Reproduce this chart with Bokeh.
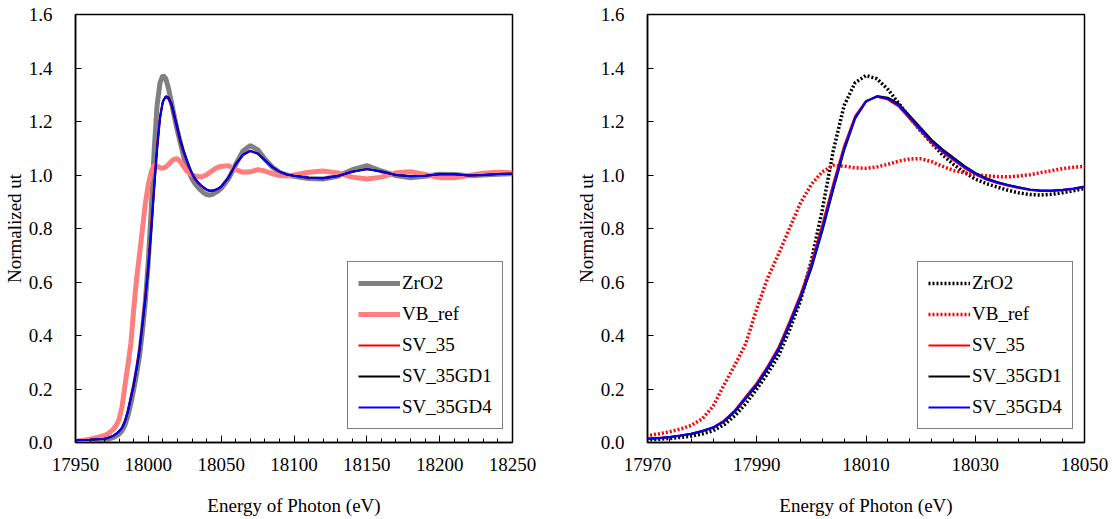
from bokeh.plotting import figure
from bokeh.layouts import row
from bokeh.models import FixedTicker, Legend, LegendItem, Range1d, CustomJSTickFormatter
from bokeh.embed import file_html
from bokeh.resources import INLINE

energy = [17950, 17955, 17960, 17965,
          17970, 17972, 17974, 17976, 17978, 17980, 17982, 17984, 17986, 17988,
          17990, 17992, 17994, 17996, 17998, 18000, 18002, 18004, 18006, 18008,
          18010, 18012, 18014, 18016, 18018, 18020, 18022, 18024, 18026, 18028,
          18030, 18032, 18034, 18036, 18038, 18040, 18042, 18044, 18046, 18048,
          18050,
          18055, 18060, 18065, 18070, 18075, 18080, 18085, 18090, 18095, 18100,
          18110, 18120, 18130, 18140, 18150, 18160, 18170, 18180, 18190, 18200,
          18210, 18220, 18230, 18240, 18250]

zro2 = [0.004, 0.005, 0.006, 0.008,
        0.010, 0.012, 0.015, 0.019, 0.024, 0.032, 0.044, 0.066, 0.100, 0.145,
        0.200, 0.258, 0.325, 0.420, 0.530, 0.680, 0.870, 1.090, 1.260, 1.345,
        1.372, 1.360, 1.320, 1.268, 1.215, 1.165, 1.120, 1.075, 1.040, 1.010,
        0.985, 0.968, 0.955, 0.943, 0.933, 0.927, 0.925, 0.928, 0.934, 0.941,
        0.950,
        0.985, 1.040, 1.090, 1.110, 1.095, 1.060, 1.030, 1.010, 1.000, 0.995,
        0.987, 0.985, 0.995, 1.020, 1.035, 1.015, 0.998, 0.990, 0.995, 1.003,
        1.002, 0.997, 1.000, 1.003, 1.005]

vb_ref = [0.005, 0.008, 0.012, 0.019,
          0.026, 0.032, 0.040, 0.050, 0.064, 0.088, 0.135, 0.215, 0.290, 0.370,
          0.500, 0.615, 0.705, 0.800, 0.895, 0.965, 1.012, 1.036, 1.033, 1.027,
          1.025, 1.030, 1.040, 1.052, 1.060, 1.061, 1.050, 1.033, 1.017, 1.008,
          1.001, 0.997, 0.994, 0.993, 0.996, 1.001, 1.009, 1.016, 1.024, 1.029,
          1.032,
          1.035, 1.020, 1.010, 1.012, 1.020, 1.015, 1.005, 0.998, 0.996, 1.000,
          1.010, 1.015, 1.008, 0.992, 0.985, 0.992, 1.008, 1.012, 1.002, 0.990,
          0.990, 0.998, 1.007, 1.010, 1.008]

sv_35 = [0.008, 0.009, 0.010, 0.012,
         0.014, 0.017, 0.021, 0.026, 0.033, 0.043, 0.057, 0.082, 0.121, 0.172,
         0.223, 0.286, 0.357, 0.453, 0.555, 0.672, 0.815, 0.968, 1.110, 1.220,
         1.277, 1.292, 1.282, 1.255, 1.210, 1.164, 1.120, 1.085, 1.055, 1.026,
         1.002, 0.983, 0.970, 0.960, 0.951, 0.944, 0.940, 0.940, 0.943, 0.948,
         0.955,
         0.989, 1.038, 1.074, 1.089, 1.079, 1.054, 1.030, 1.012, 1.002, 0.997,
         0.990, 0.988, 0.996, 1.012, 1.022, 1.013, 1.000, 0.995, 0.997, 1.003,
         1.003, 0.998, 1.000, 1.004, 1.005]

sv_35gd1 = [0.008, 0.009, 0.010, 0.012,
            0.014, 0.016, 0.020, 0.025, 0.032, 0.042, 0.055, 0.078, 0.115, 0.164,
            0.214, 0.275, 0.344, 0.438, 0.537, 0.650, 0.790, 0.945, 1.092, 1.210,
            1.274, 1.295, 1.289, 1.266, 1.222, 1.177, 1.132, 1.096, 1.065, 1.034,
            1.008, 0.988, 0.974, 0.963, 0.954, 0.946, 0.942, 0.942, 0.945, 0.950,
            0.957,
            0.991, 1.041, 1.076, 1.091, 1.081, 1.056, 1.031, 1.012, 1.002, 0.997,
            0.990, 0.988, 0.996, 1.012, 1.022, 1.013, 1.000, 0.995, 0.997, 1.003,
            1.003, 0.998, 1.000, 1.004, 1.005]

sv_35gd4 = [0.008, 0.009, 0.010, 0.012,
            0.014, 0.017, 0.021, 0.026, 0.033, 0.043, 0.056, 0.080, 0.118, 0.168,
            0.218, 0.280, 0.350, 0.445, 0.545, 0.660, 0.800, 0.955, 1.100, 1.215,
            1.275, 1.293, 1.285, 1.260, 1.215, 1.170, 1.125, 1.090, 1.060, 1.030,
            1.005, 0.985, 0.972, 0.962, 0.953, 0.945, 0.941, 0.941, 0.944, 0.949,
            0.956,
            0.990, 1.040, 1.075, 1.090, 1.080, 1.055, 1.030, 1.012, 1.002, 0.997,
            0.990, 0.988, 0.996, 1.012, 1.022, 1.013, 1.000, 0.995, 0.997, 1.003,
            1.003, 0.998, 1.000, 1.004, 1.005]

series_names = ["ZrO2", "VB_ref", "SV_35", "SV_35GD1", "SV_35GD4"]
series_vals = [zro2, vb_ref, sv_35, sv_35gd1, sv_35gd4]

left_xticks = [17950, 18000, 18050, 18100, 18150, 18200, 18250]
right_xticks = [17970, 17990, 18010, 18030, 18050]
yticks = [0.0, 0.2, 0.4, 0.6, 0.8, 1.0, 1.2, 1.4, 1.6]

FONT = "serif"
FS = "19px"


def make_fig(xr, xticks, minor_step, left_border, right_border, styles):
    p = figure(width=left_border + 438 + right_border, height=519,
               x_range=Range1d(*xr), y_range=Range1d(0, 1.6),
               output_backend="svg", toolbar_location=None,
               min_border_left=left_border, min_border_right=right_border,
               min_border_top=14, min_border_bottom=77)
    p.frame_width = 437
    p.frame_height = 428
    p.xgrid.visible = False
    p.ygrid.visible = False
    p.outline_line_color = "black"
    p.outline_line_width = 1.5
    p.background_fill_color = "white"
    p.border_fill_color = "white"

    minor = []
    v = xr[0]
    while v <= xr[1] + 1e-9:
        minor.append(v)
        v += minor_step
    p.xaxis.ticker = FixedTicker(ticks=xticks, minor_ticks=minor)
    p.yaxis.ticker = FixedTicker(ticks=yticks, minor_ticks=[])
    p.yaxis.formatter = CustomJSTickFormatter(code="return tick.toFixed(1);")
    for ax in (p.xaxis[0], p.yaxis[0]):
        ax.axis_line_color = "black"
        ax.axis_line_width = 1.5
        ax.major_tick_line_color = "black"
        ax.minor_tick_line_color = "black"
        ax.major_tick_out = 0
        ax.minor_tick_out = 0
        ax.major_label_text_font = FONT
        ax.major_label_text_font_size = FS
        ax.major_label_text_color = "black"
        ax.axis_label_text_font = FONT
        ax.axis_label_text_font_size = FS
        ax.axis_label_text_font_style = "normal"
        ax.axis_label_text_color = "black"
    p.xaxis.major_tick_in = 7
    p.xaxis.minor_tick_in = 4
    p.yaxis.major_tick_in = 6
    p.yaxis.minor_tick_in = 0
    p.xaxis.major_label_standoff = 15
    p.yaxis.major_label_standoff = 23
    p.xaxis.axis_label = "Energy of Photon (eV)"
    p.yaxis.axis_label = "Normalized ut"
    p.xaxis.axis_label_standoff = 21
    p.yaxis.axis_label_standoff = 1

    items = []
    for name, vals, st in zip(series_names, series_vals, styles):
        r = p.line(energy, vals, **st)
        items.append(LegendItem(label=name, renderers=[r]))
    leg = Legend(items=items, location=(0, 0))
    leg.label_text_font = FONT
    leg.label_text_font_size = FS
    leg.label_text_color = "black"
    leg.border_line_color = "black"
    leg.border_line_width = 1
    leg.glyph_width = 42
    leg.glyph_height = 20
    leg.spacing = 9
    leg.padding = 10
    leg.margin = 0
    leg.label_standoff = 2
    leg.label_height = 20
    leg.label_text_line_height = 1.0
    leg.background_fill_alpha = 1
    p.add_layout(leg, "center")
    return p, leg


left_styles = [
    dict(line_color="#808080", line_width=5),
    dict(line_color="#ff7f7f", line_width=5),
    dict(line_color="#ff0000", line_width=2),
    dict(line_color="#000000", line_width=2),
    dict(line_color="#0000ff", line_width=2),
]
right_styles = [
    dict(line_color="#000000", line_width=3.5, line_dash="2 2"),
    dict(line_color="#ff0000", line_width=3.5, line_dash="2 2"),
    dict(line_color="#ff0000", line_width=2),
    dict(line_color="#000000", line_width=2),
    dict(line_color="#0000ff", line_width=2),
]

p1, leg1 = make_fig((17950, 18250), left_xticks, 10, 75, 46, left_styles)
leg1.location = (272, 13)
p2, leg2 = make_fig((17970, 18050), right_xticks, 4, 89, 33, right_styles)
leg2.location = (270, 13)

layout = row(p1, p2)
open("out.html", "w").write(file_html(layout, INLINE))
